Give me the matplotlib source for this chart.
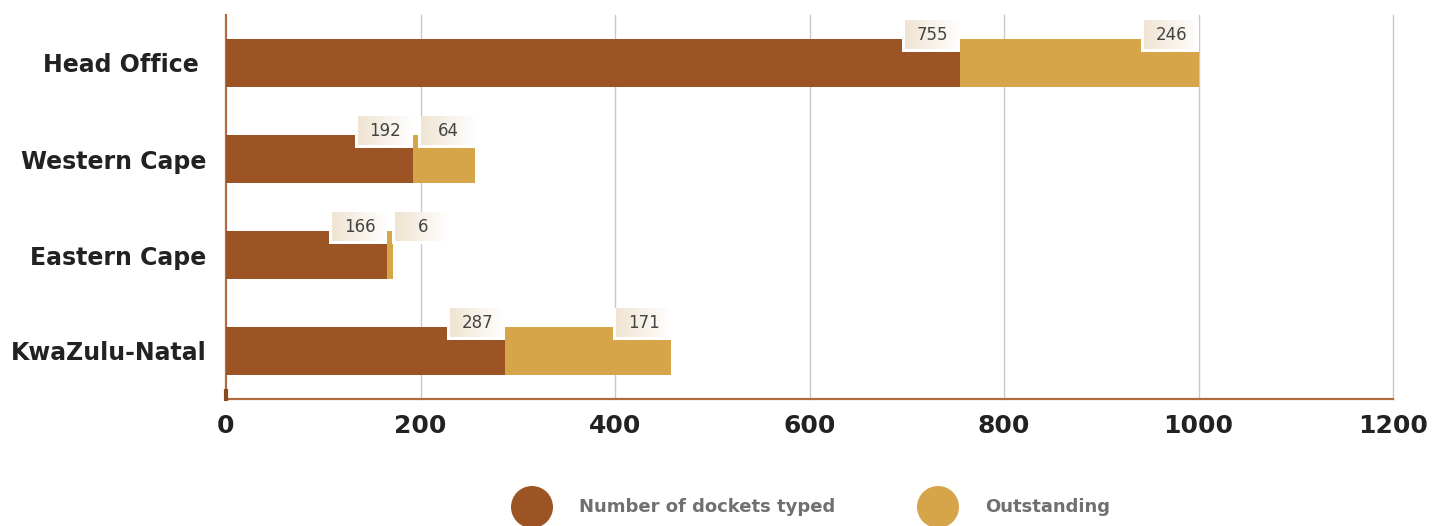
import numpy as np
import matplotlib
matplotlib.use("Agg")
import matplotlib.pyplot as plt
from matplotlib.patches import Rectangle, Circle
import matplotlib.transforms as mtransforms

# Dockets per office
offices = ["Head Office ", "Western Cape", "Eastern Cape", "KwaZulu-Natal"]
typed = [755, 192, 166, 287]
outstanding = [246, 64, 6, 171]
series_names = ["Number of dockets typed", "Outstanding"]
x_ticks = [0, 200, 400, 600, 800, 1000, 1200]

BROWN = "#9d5424"
GOLD = "#d7a549"
SPINE = "#b06c3e"

W, H = 1432, 526
fig = plt.figure(figsize=(W / 100, H / 100), dpi=100)
plt.rcParams["font.family"] = ["DejaVu Sans"]

# main axes in pixel placement
ax = fig.add_axes([226 / W, 1 - 399 / H, (1393 - 226) / W, (399 - 15) / H])
ypos = np.arange(len(offices))
bar_h = 0.49
ax.barh(ypos, typed, height=bar_h, color=BROWN, zorder=3)
ax.barh(ypos, outstanding, left=typed, height=bar_h, color=GOLD, zorder=3)

ax.set_xlim(0, 1200)
ax.set_ylim(len(offices) - 0.5, -0.5)
ax.set_xticks(x_ticks)
ax.set_xticklabels([str(t) for t in x_ticks], fontsize=18, fontweight="bold", color="#222222")
ax.set_yticks(ypos)
ax.set_yticklabels(offices, fontsize=17, fontweight="bold", color="#222222")
ax.tick_params(axis="x", length=0, pad=11)
ax.tick_params(axis="y", length=0, pad=14)
for t in x_ticks[1:]:
    ax.axvline(t, color="#c9c9c9", lw=1, zorder=1, clip_on=False)
for s in ["top", "right"]:
    ax.spines[s].set_visible(False)
for s in ["left", "bottom"]:
    ax.spines[s].set_color(SPINE)
    ax.spines[s].set_linewidth(1.6)
trans = mtransforms.blended_transform_factory(ax.transData, ax.transAxes)
ax.plot([0, 0], [0, 0.022], color="#8a4a20", lw=3, transform=trans, clip_on=False, zorder=4)

# overlay axes in pixel coordinates for labels and legend
ov = fig.add_axes([0, 0, 1, 1], zorder=5)
ov.set_xlim(0, W)
ov.set_ylim(H, 0)
ov.axis("off")
ov.patch.set_alpha(0)

fig.canvas.draw()

def to_px(x, y):
    px, py = ax.transData.transform((x, y))
    return px, H - py

grad = np.linspace(0, 1, 64)
c0 = np.array([240, 228, 210]) / 255
c1 = np.array([255, 255, 255]) / 255
grad_img = (c0[None, :] * (1 - grad[:, None]) + c1[None, :] * grad[:, None])[None, :, :]

bw, bh = 55, 29
for i in range(len(offices)):
    prev_right = -1e9
    for end, val in [(typed[i], typed[i]), (typed[i] + outstanding[i], outstanding[i])]:
        xr, yc = to_px(end, ypos[i])
        left = xr - bw
        if left < prev_right + 8:
            left = prev_right + 8
        top = yc - bar_h / 2 * (384 / 4) - 19
        ov.add_patch(Rectangle((left - 3, top), bw + 3, bh + 3, facecolor="white",
                               edgecolor="none", zorder=6))
        ov.imshow(grad_img, extent=(left, left + bw, top + bh, top), aspect="auto",
                  zorder=7, interpolation="bilinear")
        ov.text(left + bw / 2, top + bh / 2, str(val), ha="center", va="center",
                fontsize=12, color="#444444", zorder=8)
        prev_right = left + bw

ov.set_xlim(0, W)
ov.set_ylim(H, 0)

# legend
for cx, tx, col, name in [(532, 579, BROWN, series_names[0]), (938, 985, GOLD, series_names[1])]:
    ov.add_patch(Circle((cx, 507), 21, facecolor=col, edgecolor="none", zorder=6, clip_on=False))
    ov.text(tx, 507, name, ha="left", va="center", fontsize=13, fontweight="bold",
            color="#707070", zorder=8)

fig.savefig("out.png", dpi=100)
